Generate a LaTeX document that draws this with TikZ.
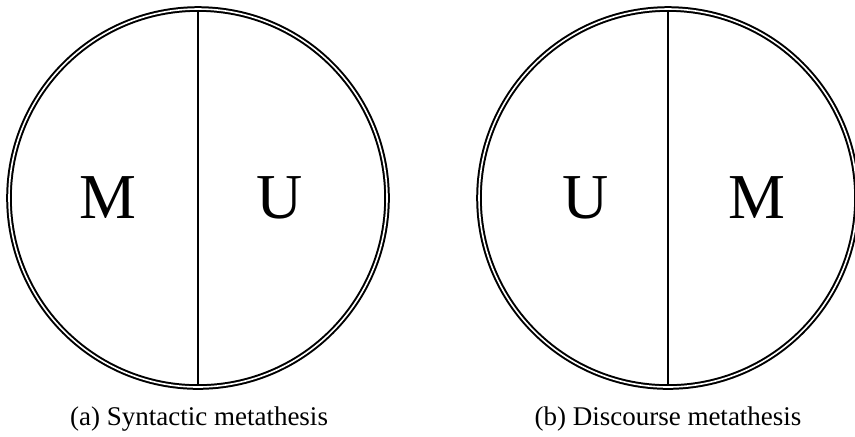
\documentclass[tikz,border=0pt]{standalone}
\usepackage{fontspec}
\setmainfont{Liberation Serif}
\begin{document}
\begin{tikzpicture}[x=0.5pt,y=-0.5pt,
    ring/.style={circle, draw, double, line width=1pt, double distance=0.8pt, minimum size=189pt, inner sep=0pt, outer sep=0pt},
    divider/.style={line width=0.8pt, shorten <=0.4pt, shorten >=0.4pt},
    half/.style={font=\fontsize{32}{36}\selectfont},
    caption/.style={anchor=base, font=\fontsize{13.5}{16}\selectfont}]
    \useasboundingbox (0,0) rectangle (855,436);
    % (a) syntactic
    \node[ring] (syn) at (198,198) {};
    \draw[divider] (syn.north) -- (syn.south);
    \node[half] (synM) at (108,198) {M};
    \node[half] (synU) at (280,198) {U};
    \node[caption] (syncap) at (199,425) {(a) Syntactic metathesis};
    % (b) discourse
    \node[ring] (dis) at (668,198) {};
    \draw[divider] (dis.north) -- (dis.south);
    \node[half] (disU) at (586,198) {U};
    \node[half] (disM) at (757,198) {M};
    \node[caption] (discap) at (668,425) {(b) Discourse metathesis};
\end{tikzpicture}
\end{document}
